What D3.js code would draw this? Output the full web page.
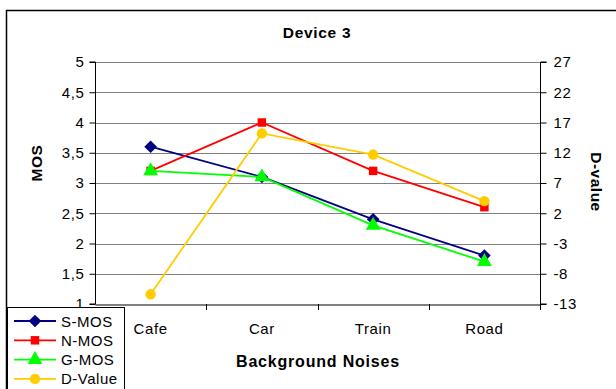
<!DOCTYPE html>
<html><head><meta charset="utf-8">
<script src="https://cdn.jsdelivr.net/npm/d3@7"></script>
<style>body{margin:0;background:#fff}svg{display:block}text{font-family:Arial,"Liberation Sans",sans-serif}</style>
</head><body><svg id="c" width="616" height="389"></svg>
<script>
const categories = ["Cafe","Car","Train","Road"];
const sMOS = [3.6, 3.1, 2.4, 1.8];
const nMOS = [3.2, 4.0, 3.2, 2.6];
const gMOS = [3.2, 3.1, 2.3, 1.7];
const dValue = [-11.4, 15.2, 11.7, 4.0];
const leftTicks = [1,1.5,2,2.5,3,3.5,4,4.5,5];
const rightTicks = [-13,-8,-3,2,7,12,17,22,27];

const svg = d3.select("#c");
const L=95, R=540, T=62, B=304;
const x = d3.scaleBand().domain(categories).range([L,R]);
const yL = d3.scaleLinear().domain([1,5]).range([B,T]);
const yR = d3.scaleLinear().domain([-13,27]).range([B,T]);

svg.append("path").attr("d","M6.5,389 V10.5 H616").attr("fill","none").attr("stroke","#000").attr("stroke-width",1.5);

svg.append("g").selectAll("line").data(leftTicks.slice(1)).join("line")
  .attr("x1",L).attr("x2",R).attr("y1",d=>Math.round(yL(d))+0.5).attr("y2",d=>Math.round(yL(d))+0.5)
  .attr("stroke","#808080").attr("stroke-width",1);

const fmt = d=>String(d).replace(".",",");
const gl = svg.append("g").attr("transform",`translate(${L+0.5},0)`)
  .call(d3.axisLeft(yL).tickValues(leftTicks).tickFormat(fmt).tickSize(6).tickPadding(5));
const gr = svg.append("g").attr("transform",`translate(${R+0.5},0)`)
  .call(d3.axisRight(yR).tickValues(rightTicks).tickFormat(d=>String(d)).tickSize(6).tickPadding(7));
const gx = svg.append("g").attr("transform",`translate(0,${B+0.5})`)
  .call(d3.axisBottom(x).tickSize(0).tickPadding(19));
svg.append("g").selectAll("line").data(categories.slice(1).concat(["__end"])).join("line")
  .attr("x1",d=>d==="__end"?R+0.5:Math.round(x(d))+0.5).attr("x2",d=>d==="__end"?R+0.5:Math.round(x(d))+0.5)
  .attr("y1",B).attr("y2",B+6).attr("stroke","#000");
[gl,gr,gx].forEach(g=>{g.select(".domain").attr("stroke","#000");g.selectAll("text").attr("font-size",15).attr("letter-spacing",0.6).attr("fill","#000").attr("font-family","Arial, Liberation Sans, sans-serif");g.selectAll(".tick line").attr("stroke","#000");});
gl.select(".domain").attr("d",`M-6,${B}H0V${T}H-6`);
gr.select(".domain").attr("d",`M6,${B}H0V${T}H6`);

svg.append("text").attr("x",317).attr("y",38).attr("text-anchor","middle").attr("font-weight","bold").attr("font-size",15.5).attr("letter-spacing",0.7).text("Device 3");
svg.append("text").attr("transform","translate(42,163) rotate(-90)").attr("text-anchor","middle").attr("font-weight","bold").attr("font-size",15.5).attr("letter-spacing",0.5).text("MOS");
svg.append("text").attr("transform","translate(591,182) rotate(90)").attr("text-anchor","middle").attr("font-weight","bold").attr("font-size",15.5).attr("letter-spacing",0.5).text("D-value");
svg.append("text").attr("x",318).attr("y",367).attr("text-anchor","middle").attr("font-weight","bold").attr("font-size",16).attr("letter-spacing",0.8).text("Background Noises");

const diamond = {draw(ctx,size){const r=Math.sqrt(size/2);ctx.moveTo(0,-r);ctx.lineTo(r,0);ctx.lineTo(0,r);ctx.lineTo(-r,0);ctx.closePath();}};
const series = [
  {name:"S-MOS", vals:sMOS, color:"#000080", sym:diamond, size:80, y:yL},
  {name:"N-MOS", vals:nMOS, color:"#FF0000", sym:d3.symbolSquare, size:72, y:yL},
  {name:"G-MOS", vals:gMOS, color:"#00FF00", sym:d3.symbolTriangle, size:95, y:yL},
  {name:"D-Value", vals:dValue, color:"#FFCC00", sym:d3.symbolCircle, size:85, y:yR}
];
const cx = c => x(c)+x.bandwidth()/2;
series.forEach(s=>{
  const line = d3.line().x((d,i)=>cx(categories[i])).y(d=>s.y(d));
  svg.append("path").attr("d",line(s.vals)).attr("fill","none").attr("stroke",s.color).attr("stroke-width",1.8);
  svg.append("g").selectAll("path").data(s.vals).join("path")
    .attr("transform",(d,i)=>`translate(${cx(categories[i])},${s.y(d)})`)
    .attr("d",d3.symbol().type(s.sym).size(s.size)).attr("fill",s.color);
});

const lg = svg.append("g");
lg.append("rect").attr("x",7.5).attr("y",307.5).attr("width",117).attr("height",90).attr("fill","#fff").attr("stroke","#000");
series.forEach((s,i)=>{
  const yy = 321 + i*19.3;
  lg.append("line").attr("x1",14).attr("x2",56).attr("y1",yy).attr("y2",yy).attr("stroke",s.color).attr("stroke-width",1.8);
  lg.append("path").attr("transform",`translate(35,${yy})`).attr("d",d3.symbol().type(s.sym).size(s.size)).attr("fill",s.color);
  lg.append("text").attr("x",61).attr("y",yy+5.5).attr("font-size",15).attr("letter-spacing",0.5).text(s.name);
});
</script></body></html>
